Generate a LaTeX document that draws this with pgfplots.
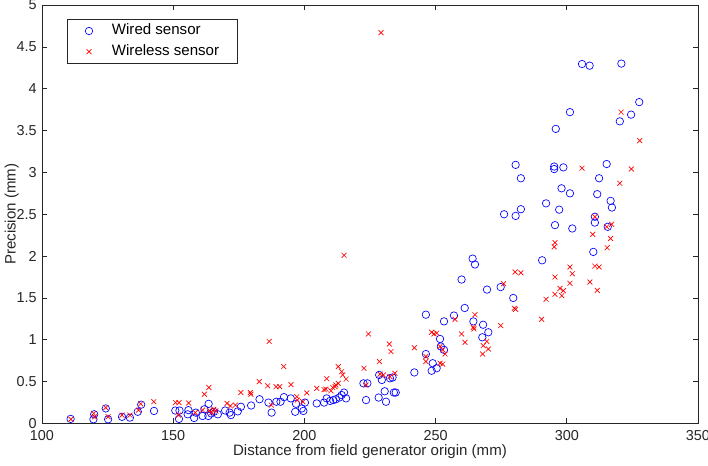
\documentclass[border=0pt]{standalone}
\usepackage{pgfplots}
\pgfplotsset{compat=1.18}
\usepackage{fontspec}
\setmainfont{Liberation Sans}
\definecolor{axgray}{RGB}{38,38,38}
\newcommand{\chartfont}{\fontsize{11.3}{13.5}\selectfont}
\newcommand{\tickfont}{\fontsize{10.8}{13}\selectfont}
\begin{document}
\chartfont
\begin{tikzpicture}
\useasboundingbox (-31.5pt,-31.125pt) rectangle (499.5pt,317.625pt);
\begin{axis}[
  scale only axis,
  width=492pt, height=313.875pt,
  xmin=100, xmax=350, ymin=0, ymax=5,
  xtick={100,150,...,350},
  ytick={0,0.5,...,5},
  yticklabels={0,0.5,1,1.5,2,2.5,3,3.5,4,4.5,5},
  /pgf/number format/assume math mode=true,
  axis line style={axgray, line width=0.5pt},
  tick style={axgray, line width=0.5pt},
  major tick length=4pt,
  tick align=inside,
  ticklabel style={font=\tickfont, text=axgray},
  xticklabel style={yshift=-1pt},
  xlabel={Distance from field generator origin (mm)},
  ylabel={Precision (mm)},
  label style={font=\chartfont, text=axgray},
  xlabel style={at={(axis description cs:0.5,-0.068)}, anchor=center},
  ylabel style={at={(axis description cs:-0.046,0.5)}, anchor=center},
  legend image code/.code={\draw[#1] plot coordinates {(0pt,0pt)};},
  legend style={at={(axis description cs:0.0376,0.9665)}, anchor=north west,
    draw=axgray, line width=0.5pt, font=\chartfont,
    nodes={inner sep=0pt, text height=8.2pt, text depth=2.3pt},
    inner xsep=13.7pt, inner ysep=3.5pt, row sep=5pt,
    /tikz/every odd column/.append style={column sep=14.4pt}},
  legend cell align=left,
]
\addplot[only marks, mark=o, mark size=2.8pt, blue, mark options={line width=0.5pt}] table {
x y
110.9 0.055
119.6 0.05
119.9 0.11
124.3 0.18
125.2 0.05
130.5 0.08
133.5 0.07
136.5 0.14
137.8 0.225
142.7 0.15
150.8 0.155
152.2 0.055
152.4 0.155
155.8 0.16
155.5 0.11
158.0 0.066
158.6 0.13
161.2 0.09
161.9 0.17
163.5 0.235
163.4 0.09
164.5 0.12
165.5 0.14
167.0 0.11
169.8 0.155
171.5 0.13
172.0 0.10
174.6 0.145
175.8 0.20
179.7 0.215
182.9 0.29
186.3 0.25
187.5 0.13
189.3 0.26
190.9 0.26
192.2 0.315
194.8 0.30
196.8 0.235
196.5 0.14
199.0 0.18
199.6 0.15
200.2 0.25
204.7 0.24
207.5 0.25
208.5 0.30
209.8 0.27
211.0 0.28
212.0 0.29
213.3 0.31
214.2 0.34
215.1 0.37
215.9 0.30
222.5 0.48
224.0 0.48
223.5 0.28
228.3 0.31
228.5 0.58
229.5 0.52
230.6 0.385
231.1 0.26
232.6 0.54
233.6 0.55
234.1 0.37
234.8 0.37
241.9 0.61
246.3 1.30
246.3 0.83
248.9 0.72
248.5 0.63
250.4 0.66
251.7 1.01
252.0 0.92
253.2 0.88
253.2 1.22
257.0 1.29
259.9 1.72
261.1 1.38
264.1 1.97
265.0 1.90
264.4 1.22
268.1 1.18
270.1 1.09
267.8 1.03
269.6 1.60
274.8 1.63
279.6 1.50
276.1 2.50
280.5 2.48
282.5 2.56
280.5 3.09
282.5 2.93
290.6 1.95
292.1 2.63
295.5 2.37
297.1 2.555
295.2 3.07
295.2 3.04
298.7 3.06
295.8 3.52
298.0 2.81
301.2 2.75
301.2 3.72
302.1 2.33
305.8 4.295
308.7 4.275
310.1 2.05
310.7 2.47
310.7 2.40
311.6 2.74
312.3 2.93
315.2 3.10
315.6 2.35
316.7 2.66
317.2 2.58
320.2 3.61
320.8 4.30
324.5 3.69
327.6 3.84
};
\addlegendentry{Wired sensor}
\addplot[only marks, mark=x, mark size=2.6pt, red, mark options={line width=0.5pt}] table {
x y
111.0 0.05
119.7 0.12
120.0 0.08
124.3 0.19
125.2 0.08
130.5 0.10
133.5 0.10
136.8 0.16
137.6 0.235
142.6 0.26
150.9 0.25
152.2 0.25
152.0 0.10
155.9 0.245
158.4 0.13
161.9 0.35
163.6 0.43
161.2 0.16
163.8 0.153
164.7 0.13
165.5 0.17
166.3 0.15
170.5 0.24
171.8 0.21
173.7 0.22
175.8 0.37
179.4 0.37
179.6 0.35
182.8 0.50
186.0 0.45
186.6 0.98
187.4 0.22
189.2 0.44
190.6 0.44
192.1 0.68
194.9 0.465
197.1 0.32
197.3 0.28
199.4 0.26
200.9 0.365
204.7 0.42
207.5 0.405
208.2 0.41
208.5 0.535
210.1 0.39
210.8 0.43
211.7 0.44
212.0 0.46
212.9 0.68
212.9 0.48
214.2 0.62
214.6 0.58
215.9 0.53
215.1 2.01
222.7 0.66
224.4 1.07
223.5 0.46
228.6 0.74
228.8 0.59
230.1 0.58
232.6 0.56
234.5 0.60
232.4 0.95
233.0 0.86
229.2 4.67
241.9 0.905
246.3 0.80
246.3 0.74
248.5 1.09
250.4 1.08
249.4 1.07
251.7 0.92
252.7 0.88
253.6 0.83
251.7 0.72
252.7 0.71
257.4 1.245
259.9 1.07
261.2 0.97
264.4 1.15
264.6 1.13
265.0 1.30
267.9 0.83
268.2 0.93
269.5 0.98
270.1 0.89
274.8 1.17
275.9 1.67
280.0 1.376
280.5 1.364
280.3 1.81
282.5 1.80
290.4 1.245
292.1 1.484
295.5 1.544
297.4 1.615
298.1 1.527
298.7 1.587
295.5 1.75
295.5 2.16
295.2 2.11
301.2 1.87
302.1 1.79
301.2 1.675
305.8 3.05
308.8 1.69
309.9 2.26
310.7 2.47
310.7 1.88
312.3 1.87
311.6 1.59
315.2 2.35
315.4 2.10
316.7 2.21
317.1 2.38
320.2 2.87
320.7 3.72
324.6 3.04
327.8 3.38
};
\addlegendentry{Wireless sensor}
\end{axis}
\end{tikzpicture}
\end{document}
